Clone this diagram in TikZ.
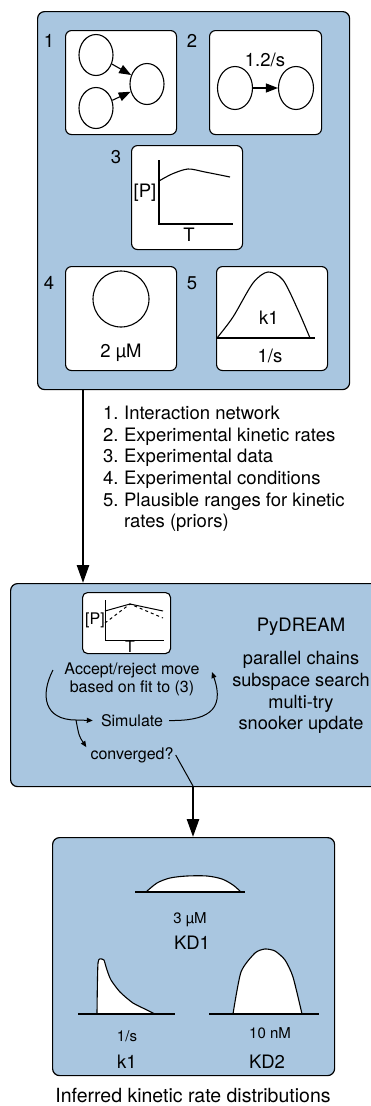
\documentclass[tikz,border=0pt]{standalone}
\usepackage{fontspec}
\setmainfont{TeX Gyre Heros}
\usetikzlibrary{arrows.meta,shapes.geometric}
\definecolor{stagefill}{RGB}{169,198,224}
\tikzset{
  stage/.style={draw, line width=1.2pt, fill=stagefill, rounded corners=7pt, anchor=north west, inner sep=0pt},
  card/.style={draw, line width=1.1pt, fill=white, rounded corners=6pt, anchor=north west, inner sep=0pt},
  species/.style={draw, ellipse, line width=1.1pt, minimum width=34pt, minimum height=41pt, inner sep=0pt},
  label/.style={inner sep=2pt},
  flow/.style={-{Triangle[length=18pt,width=12pt]}, line width=2.6pt},
  react/.style={-{Triangle[length=12pt,width=9pt]}, line width=1.1pt},
  loopar/.style={-{Triangle[length=6pt,width=5pt]}, line width=1pt},
  axis/.style={line width=1.1pt},
  density/.style={draw, fill=white, line width=1.1pt, line join=round},
  small/.style={inner sep=2pt, font=\fontsize{15}{17}\selectfont},
  mcmc/.style={inner sep=2pt, font=\fontsize{16}{18}\selectfont},
}
\begin{document}
\begin{tikzpicture}[x=1pt,y=-1pt,font=\fontsize{18.5}{21.7}\selectfont]
\useasboundingbox (0,0) rectangle (371,1106);
\clip (0,0) rectangle (371,1106);

% model inputs
\node[stage, minimum width=312pt, minimum height=378pt] (inputs) at (37,11) {};
\node[card, minimum width=111pt, minimum height=104pt] (net) at (65,30) {};
\node[card, minimum width=112pt, minimum height=104pt] (rates) at (209,30) {};
\node[card, minimum width=111pt, minimum height=104pt] (data) at (131,145) {};
\node[card, minimum width=111pt, minimum height=104pt] (cond) at (65,266) {};
\node[card, minimum width=111pt, minimum height=104pt] (prior) at (216,266) {};

\node[label] (l1) at (49,41) {1};
\node[label] (l2) at (192,41) {2};
\node[label] (l3) at (116,157) {3};
\node[label] (l4) at (49,283) {4};
\node[label] (l5) at (192,283) {5};

\node[species] (s1) at (96,55) {};
\node[species] (s2) at (96,108) {};
\node[species] (s3) at (147,84) {};
\draw[react] (s1) -- (s3);
\draw[react] (s2) -- (s3);

\node[species, minimum width=35pt, minimum height=43pt] (r1) at (235,88) {};
\node[species, minimum width=35pt, minimum height=43pt] (r2) at (296,88) {};
\draw[react] (r1) -- (r2);
\node[label] (kon) at (265,60) {1.2/s};

\draw[axis] (159,160) -- (159,224) -- (233,224);
\draw[axis] plot[smooth] coordinates {(159,181) (172,174) (188,169) (205,172) (230,177)};
\node[label] (py) at (145,193) {[P]};
\node[label] (tx) at (189,235) {T};

\node[draw, circle, line width=1.1pt, minimum size=56pt] (vol) at (121,299) {};
\node[label] (conc) at (121,353) {2 µM};

\draw[axis] (217,338) -- (315,338);
\draw[axis] plot[smooth] coordinates {(217,338) (233,317) (253,283) (268,272) (283,280) (298,310) (310,338)};
\node[label] (kname) at (269,318) {k1};
\node[label] (kunit) at (270,356) {1/s};

\node[anchor=north west, inner sep=0pt] (legend) at (103,404) {%
  \begin{tabular}{@{}l@{\hspace{5.5pt}}l@{}}
  1. & Interaction network\\
  2. & Experimental kinetic rates\\
  3. & Experimental data\\
  4. & Experimental conditions\\
  5. & Plausible ranges for kinetic\\
     & rates (priors)
  \end{tabular}};

% sampler
\node[stage, minimum width=390pt, minimum height=203pt] (sampler) at (10,583) {};
\draw[flow] ([xshift=46pt]inputs.south west) -- ([xshift=46pt]inputs.south west |- sampler.north);

\node[card, minimum width=88pt, minimum height=61pt, rounded corners=5pt] (fit) at (82,592) {};
\draw[line width=1pt] (105,600) -- (105,640) -- (164,640);
\draw[line width=1pt] (105,611) -- (130,604) -- (163,611);
\draw[line width=1pt, dashed] (105,623) -- (130,604) -- (163,618);
\node[mcmc] (fy) at (95,620) {[P]};
\node[mcmc] (fx) at (130,646.5) {T};

\node[mcmc, align=center] (accept) at (132,679) {Accept/reject move\\based on fit to (3)};
\node[mcmc] (sim) at (132,720.5) {Simulate};
\node[mcmc] (conv) at (132,755) {converged?};

\coordinate (lstart) at (53,670);
\coordinate (split) at (76,720);
\coordinate (rend) at (212,672);
\draw[loopar] (lstart) .. controls (40,695) and (44,720) .. (split) -- ([xshift=-6pt]sim.west);
\draw[loopar] (split) .. controls (79,736) .. ([xshift=-2pt,yshift=-2pt]conv.north west);
\draw[loopar] ([xshift=4pt]sim.east) .. controls (205,721) and (226,712) .. (rend);

\node[label] (tool) at (301,627) {PyDREAM};
\node[label, align=center, font=\fontsize{18.2}{21.7}\selectfont] (moves) at (301,692.5) {parallel chains\\subspace search\\multi-try\\snooker update};

\coordinate (exit) at (193,786);
\draw[line width=1pt] (conv.east) -- (exit);

% posteriors
\node[stage, minimum width=282pt, minimum height=238pt] (result) at (52,837) {};
\draw[flow] (exit) -- (exit |- result.north);

\draw[density] plot[smooth, tension=0.5] coordinates {(146,892) (157,883) (170,878) (187,876) (207,876) (222,879) (233,885) (241,892)} -- cycle;
\draw[axis] (135,892) -- (245,892);
\node[small] (kd1unit) at (190,920) {3 µM};
\node[label] (kd1) at (192,943) {KD1};

\draw[density] plot[smooth, tension=0.4] coordinates {(97,1014) (98,963) (102,959) (104,960) (107,970) (111,980) (120,992) (133,1003) (147,1010) (155,1014)} -- cycle;
\draw[axis] (78,1014) -- (175,1014);
\node[small] (k1unit) at (127,1036) {1/s};
\node[label] (k1) at (127,1062) {k1};

\draw[density] plot[smooth, tension=0.4] coordinates {(233,1014) (241,972) (255,953) (265,949) (275,951) (285,960) (293,977) (302,1014)} -- cycle;
\draw[axis] (209,1014) -- (319,1014);
\node[small] (kd2unit) at (270,1033) {10 nM};
\node[label] (kd2) at (267,1062) {KD2};

\node[inner sep=0pt, font=\fontsize{19.5}{22}\selectfont] (caption) at (193,1095.5) {Inferred kinetic rate distributions};
\end{tikzpicture}
\end{document}
